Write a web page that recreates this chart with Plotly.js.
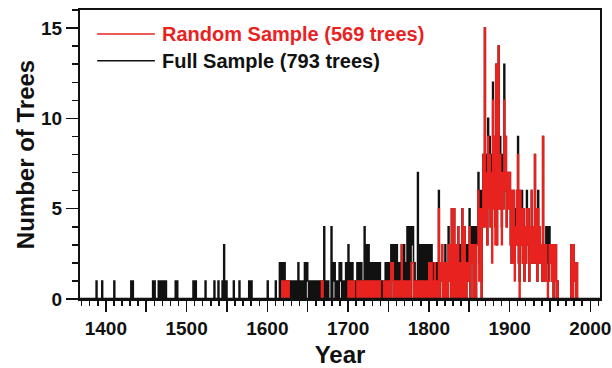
<!DOCTYPE html>
<html>
<head>
<meta charset="utf-8">
<script src="https://cdn.plot.ly/plotly-3.0.1.min.js"></script>
<style>html,body{margin:0;padding:0;background:#fff;}#chart{width:612px;height:368px;}</style>
</head>
<body>
<div id="chart"></div>
<script>
// Annual counts of trees, one value per year.
const firstYear = 1380;

// Full sample (793 trees)
const full1380s = [0,0,0,0,0,0,0,0,1,0, 0,0,0,0,0,1,0,0,0,0];
const full1400s = [
  0,0,0,0,0,0,0,0,0,0, 1,0,0,0,0,0,0,0,0,0, 0,0,0,0,0,0,0,0,0,0,
  0,1,0,1,0,0,0,0,0,0, 0,0,0,0,0,0,0,0,0,0, 0,0,0,0,0,0,0,0,1,0,
  1,0,0,0,0,1,0,1,1,0, 1,0,1,0,1,0,0,0,0,0, 0,0,0,0,0,0,1,0,1,0,
  0,0,0,0,0,0,0,0,0,0];
const full1500s = [
  0,0,0,0,0,0,0,0,1,0, 0,1,0,0,0,0,0,0,0,0, 0,0,0,1,0,0,0,0,0,0,
  0,0,0,0,1,0,0,0,0,1, 0,0,0,0,1,0,3,1,0,1, 0,0,0,0,0,0,0,0,1,0,
  0,0,0,0,0,1,0,0,0,0, 0,0,0,0,0,0,0,1,0,0, 1,0,0,0,0,0,0,0,0,0,
  0,0,0,0,0,0,0,0,0,0];
const full1600s = [
  1,0,0,0,0,0,0,0,0,0, 1,0,0,0,0,2,0,2,1,2, 1,2,0,1,0,1,1,0,1,0,
  0,1,0,1,0,1,0,1,2,0, 1,0,0,1,0,0,2,0,1,2, 1,0,0,1,0,1,1,0,1,0,
  1,0,1,1,0,1,0,1,1,0, 4,1,0,1,0,1,0,0,0,4, 0,2,1,2,0,0,1,0,0,2,
  1,2,0,1,0,1,0,2,1,0];
const full1700s = [
  3,0,2,1,0,2,0,1,1,0, 0,2,0,2,1,0,2,0,1,0, 4,0,1,3,0,3,2,0,1,2,
  0,2,1,0,2,0,1,2,0,2, 0,1,0,0,1,0,2,0,2,1, 0,2,0,3,1,3,0,2,3,0,
  3,0,2,1,0,2,3,1,1,3, 0,2,0,4,0,4,3,0,4,3, 4,0,2,0,1,0,7,0,3,3,
  0,3,1,3,0,3,2,0,3,1];
const full1800s = [
  3,2,0,3,1,2,0,2,0,2, 0,1,6,0,2,1,3,0,2,0, 3,0,2,0,4,1,3,0,5,0,
  2,5,0,3,1,0,4,0,2,3, 0,5,2,0,4,3,0,3,1,3, 5,0,4,2,4,0,4,3,0,4,
  3,7,2,6,4,0,6,8,4,15, 5,8,3,10,6,9,4,8,6,12, 5,9,4,13,3,7,14,5,9,6,
  4,8,5,13,6,9,4,7,5,7];
const full1900s = [
  7,3,2,6,3,6,2,5,3,6, 9,2,1,6,3,6,2,5,1,4, 2,6,3,5,1,4,2,6,2,4,
  2,8,2,5,1,6,2,4,2,3, 1,9,2,1,3,4,2,4,1,4, 2,3,1,3,0,3,1,3,0,1,
  0,0,0,0,0,0,0,0,0,0, 0,0,0,0,0,0,3,1,0,3, 1,2,0,2,0,0,0,0,0,0];

// Random sample (569 trees)
const random1380s = [0,0,0,0,0,0,0,0,0,0, 0,0,0,0,0,0,0,0,0,0];
const random1400s = new Array(100).fill(0);
const random1500s = new Array(100).fill(0);
const random1600s = [
  0,0,0,0,0,0,0,0,0,0, 0,0,0,0,0,0,0,0,1,0, 1,1,0,1,0,1,1,0,0,0,
  0,0,0,0,0,0,0,0,0,0, 0,0,0,0,0,0,0,0,0,0, 0,0,0,0,0,0,0,0,0,0,
  0,0,0,0,0,0,0,1,1,0, 0,0,0,0,0,0,0,0,0,0, 0,0,0,0,0,0,0,0,0,0,
  0,0,0,0,0,0,0,0,0,0];
const random1700s = [
  1,0,1,1,0,1,0,1,0,0, 0,1,0,1,1,0,1,0,1,0, 1,0,1,1,0,1,1,0,1,1,
  0,1,1,0,1,0,1,1,0,1, 0,0,0,0,1,0,1,0,1,1, 0,1,0,2,1,2,0,1,1,0,
  1,0,1,0,0,1,3,0,1,1, 0,1,0,1,0,1,1,0,2,2, 2,0,1,0,1,0,1,0,1,0,
  0,1,0,1,0,0,1,0,1,0];
const random1800s = [
  2,2,0,2,0,1,0,2,0,1, 0,1,5,0,2,1,3,0,2,0, 2,0,2,0,3,1,3,0,5,0,
  2,5,0,3,1,0,4,0,2,2, 0,5,2,0,4,2,0,2,1,2, 4,0,3,2,3,0,3,3,0,3,
  3,6,1,5,4,0,5,8,4,15, 4,7,3,9,5,8,4,7,2,11, 5,9,3,13,3,7,14,5,8,6,
  3,7,5,11,6,9,4,7,5,7];
const random1900s = [
  7,3,2,6,2,6,1,4,3,6, 8,2,0,6,3,5,2,5,1,4, 2,5,3,5,1,4,2,6,2,4,
  2,8,2,5,1,5,2,4,2,3, 1,9,2,1,3,3,1,0,1,3, 2,3,1,3,0,3,1,3,0,1,
  0,0,0,0,0,0,0,0,0,0, 0,0,0,0,0,0,3,1,0,3, 1,2,0,2,0,0,0,0,0,0];

const seriesNames = ['Random Sample (569 trees)', 'Full Sample (793 trees)'];
const seriesColors = ['#e8231f', '#111111'];
const xTickValues = [1400, 1450, 1500, 1550, 1600, 1650, 1700, 1750, 1800, 1850, 1900, 1950, 2000];
const xTickLabels = ['1400', '', '1500', '', '1600', '', '1700', '', '1800', '', '1900', '', '2000'];
const yTickValues = [0, 5, 10, 15];

const fullCounts = [].concat(full1380s, full1400s, full1500s, full1600s, full1700s, full1800s, full1900s);
const randomCounts = [].concat(random1380s, random1400s, random1500s, random1600s, random1700s, random1800s, random1900s);
const yearsFull = fullCounts.map((_, i) => firstYear + i);
const yearsRandom = randomCounts.map((_, i) => firstYear + i);

const FONT = 'Liberation Sans, Arial, Helvetica, sans-serif';

const traces = [
  {x: yearsFull, y: fullCounts, type: 'scatter', mode: 'lines', name: seriesNames[1],
   line: {shape: 'hv', color: seriesColors[1], width: 1.6}, showlegend: false, hoverinfo: 'skip'},
  {x: yearsRandom, y: randomCounts, type: 'scatter', mode: 'lines', name: seriesNames[0],
   line: {shape: 'hv', color: seriesColors[0], width: 1.6}, showlegend: false, hoverinfo: 'skip'}
];

const axisColor = '#111111';
const layout = {
  width: 612, height: 368,
  margin: {l: 80, r: 12, t: 10, b: 69},
  paper_bgcolor: '#ffffff', plot_bgcolor: '#ffffff',
  font: {family: FONT, color: axisColor},
  showlegend: false,
  xaxis: {
    range: [1368, 2012], showgrid: false, zeroline: false,
    showline: true, linecolor: axisColor, linewidth: 2, mirror: true,
    ticks: 'outside', ticklen: 11, tickwidth: 1.5, tickcolor: axisColor,
    tickmode: 'array', tickvals: xTickValues, ticktext: xTickLabels,
    tickfont: {family: FONT, size: 19, weight: 'bold', color: axisColor},
    minor: {ticks: 'outside', tickmode: 'linear', tick0: 1400, dtick: 10, ticklen: 5, tickwidth: 1.5, tickcolor: axisColor, showgrid: false},
    title: {text: 'Year', font: {family: FONT, size: 24, weight: 'bold', color: axisColor}, standoff: 8}
  },
  yaxis: {
    range: [0, 16], showgrid: false, zeroline: false,
    showline: true, linecolor: axisColor, linewidth: 2, mirror: true,
    ticks: 'outside', ticklen: 12, tickwidth: 1.5, tickcolor: axisColor,
    tickmode: 'array', tickvals: yTickValues,
    tickfont: {family: FONT, size: 19, weight: 'bold', color: axisColor},
    minor: {ticks: 'outside', tickmode: 'linear', tick0: 0, dtick: 1, ticklen: 6, tickwidth: 1.5, tickcolor: axisColor, showgrid: false},
    title: {text: 'Number of Trees', font: {family: FONT, size: 24, weight: 'bold', color: axisColor}, standoff: 0}
  },
  shapes: [
    // baseline drawn over the zero-count stretches of the step lines (acts as the x-axis line)
    {type: 'line', xref: 'paper', yref: 'y', x0: 0, x1: 1, y0: 0, y1: 0, layer: 'above', line: {color: axisColor, width: 2.5}},
    {type: 'line', xref: 'paper', yref: 'paper', x0: 0.033, x1: 0.144, y0: 0.917, y1: 0.917, line: {color: seriesColors[0], width: 1.5}},
    {type: 'line', xref: 'paper', yref: 'paper', x0: 0.033, x1: 0.144, y0: 0.824, y1: 0.824, line: {color: seriesColors[1], width: 1.5}}
  ],
  annotations: [
    {xref: 'paper', yref: 'paper', x: 0.154, y: 0.917, xanchor: 'left', yanchor: 'middle', showarrow: false,
     text: seriesNames[0], font: {family: FONT, size: 20, weight: 'bold', color: seriesColors[0]}},
    {xref: 'paper', yref: 'paper', x: 0.154, y: 0.824, xanchor: 'left', yanchor: 'middle', showarrow: false,
     text: seriesNames[1], font: {family: FONT, size: 20, weight: 'bold', color: seriesColors[1]}}
  ]
};

Plotly.newPlot('chart', traces, layout, {staticPlot: true, displayModeBar: false});
</script>
</body>
</html>
